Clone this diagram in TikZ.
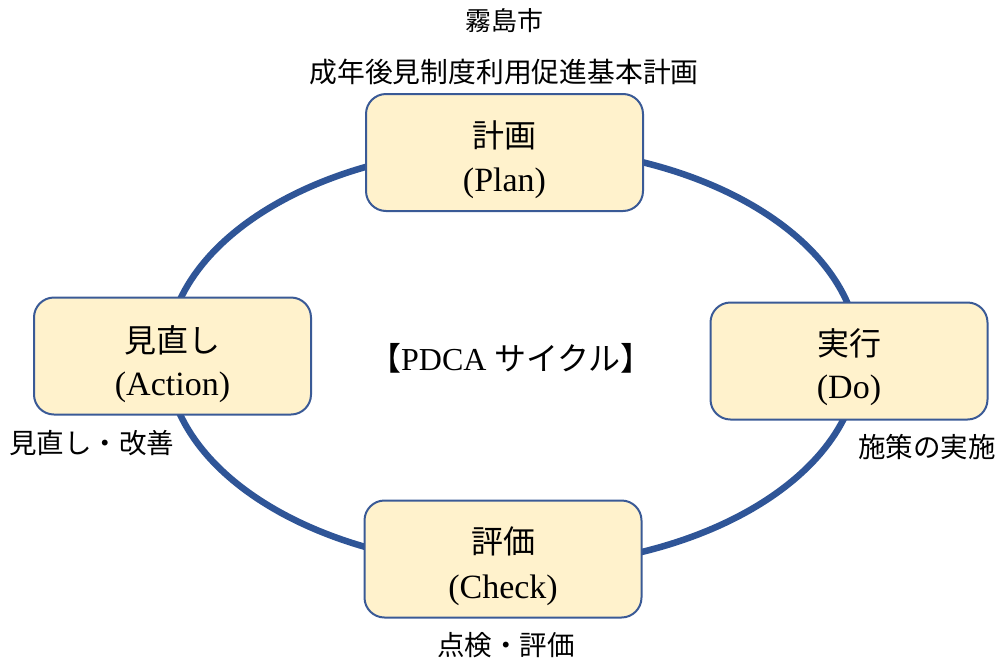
\documentclass[tikz,border=0pt]{standalone}
\usepackage{fontspec}
\setmainfont{Liberation Serif}
\newfontfamily\cjk{Noto Sans CJK JP}
\definecolor{ringblue}{HTML}{2F5597}
\definecolor{boxfill}{HTML}{FFF2CC}
\definecolor{boxline}{HTML}{3A5A96}
\begin{document}
\begin{tikzpicture}[x=1pt,y=-1pt,
  phase/.style={draw=boxline, line width=2pt, fill=boxfill, rounded corners=20pt,
    minimum width=277pt, minimum height=117pt, inner sep=0pt},
  jpbig/.style={inner sep=0pt, font=\cjk\fontsize{32}{36}\selectfont},
  enbig/.style={inner sep=0pt, font=\fontsize{34}{38}\selectfont},
  label/.style={inner sep=0pt, font=\cjk\fontsize{27.5}{30}\selectfont},
  ring/.style={draw=ringblue, line width=6.5pt}
]
\useasboundingbox (0,0) rectangle (1003,659);
% cycle ring
\draw[ring] (513,357) ellipse [x radius=346pt, y radius=210pt];
% boxes
\node[phase] (plan) at (504.5,152.5) {};
\node[phase] (act) at (172.5,356) {};
\node[phase] (do) at (849,361) {};
\node[phase] (chk) at (503,559) {};
% box texts
\node[jpbig] (planjp) at ([yshift=-42pt]plan.north) {計画};
\node[enbig] (planen) at ([yshift=-90pt]plan.north) {(Plan)};
\node[jpbig] (actjp) at ([yshift=-44pt]act.north) {見直し};
\node[enbig] (acten) at ([yshift=-91pt]act.north) {(Action)};
\node[jpbig] (dojp) at ([yshift=-42pt]do.north) {実行};
\node[enbig] (doen) at ([yshift=-89pt]do.north) {(Do)};
\node[jpbig] (chkjp) at ([yshift=-42pt]chk.north) {評価};
\node[enbig] (chken) at ([yshift=-91pt]chk.north) {(Check)};
% titles
\node[inner sep=0pt, font=\cjk\fontsize{26}{30}\selectfont] (city) at (504,21) {霧島市};
\node[inner sep=0pt, font=\cjk\fontsize{27.8}{30}\selectfont] (title) at (504,72) {成年後見制度利用促進基本計画};
% center
\node[inner sep=0pt, font=\fontsize{32}{36}\selectfont] (pdca) at (511,358) {{\cjk 【}PDCA {\cjk サイクル】}};
% side labels
\node[label, anchor=west] (lact) at (9,443) {見直し・改善};
\node[label, anchor=west] (ldo) at (858,447) {施策の実施};
\node[label] (lchk) at (506,645) {点検・評価};
\end{tikzpicture}
\end{document}
